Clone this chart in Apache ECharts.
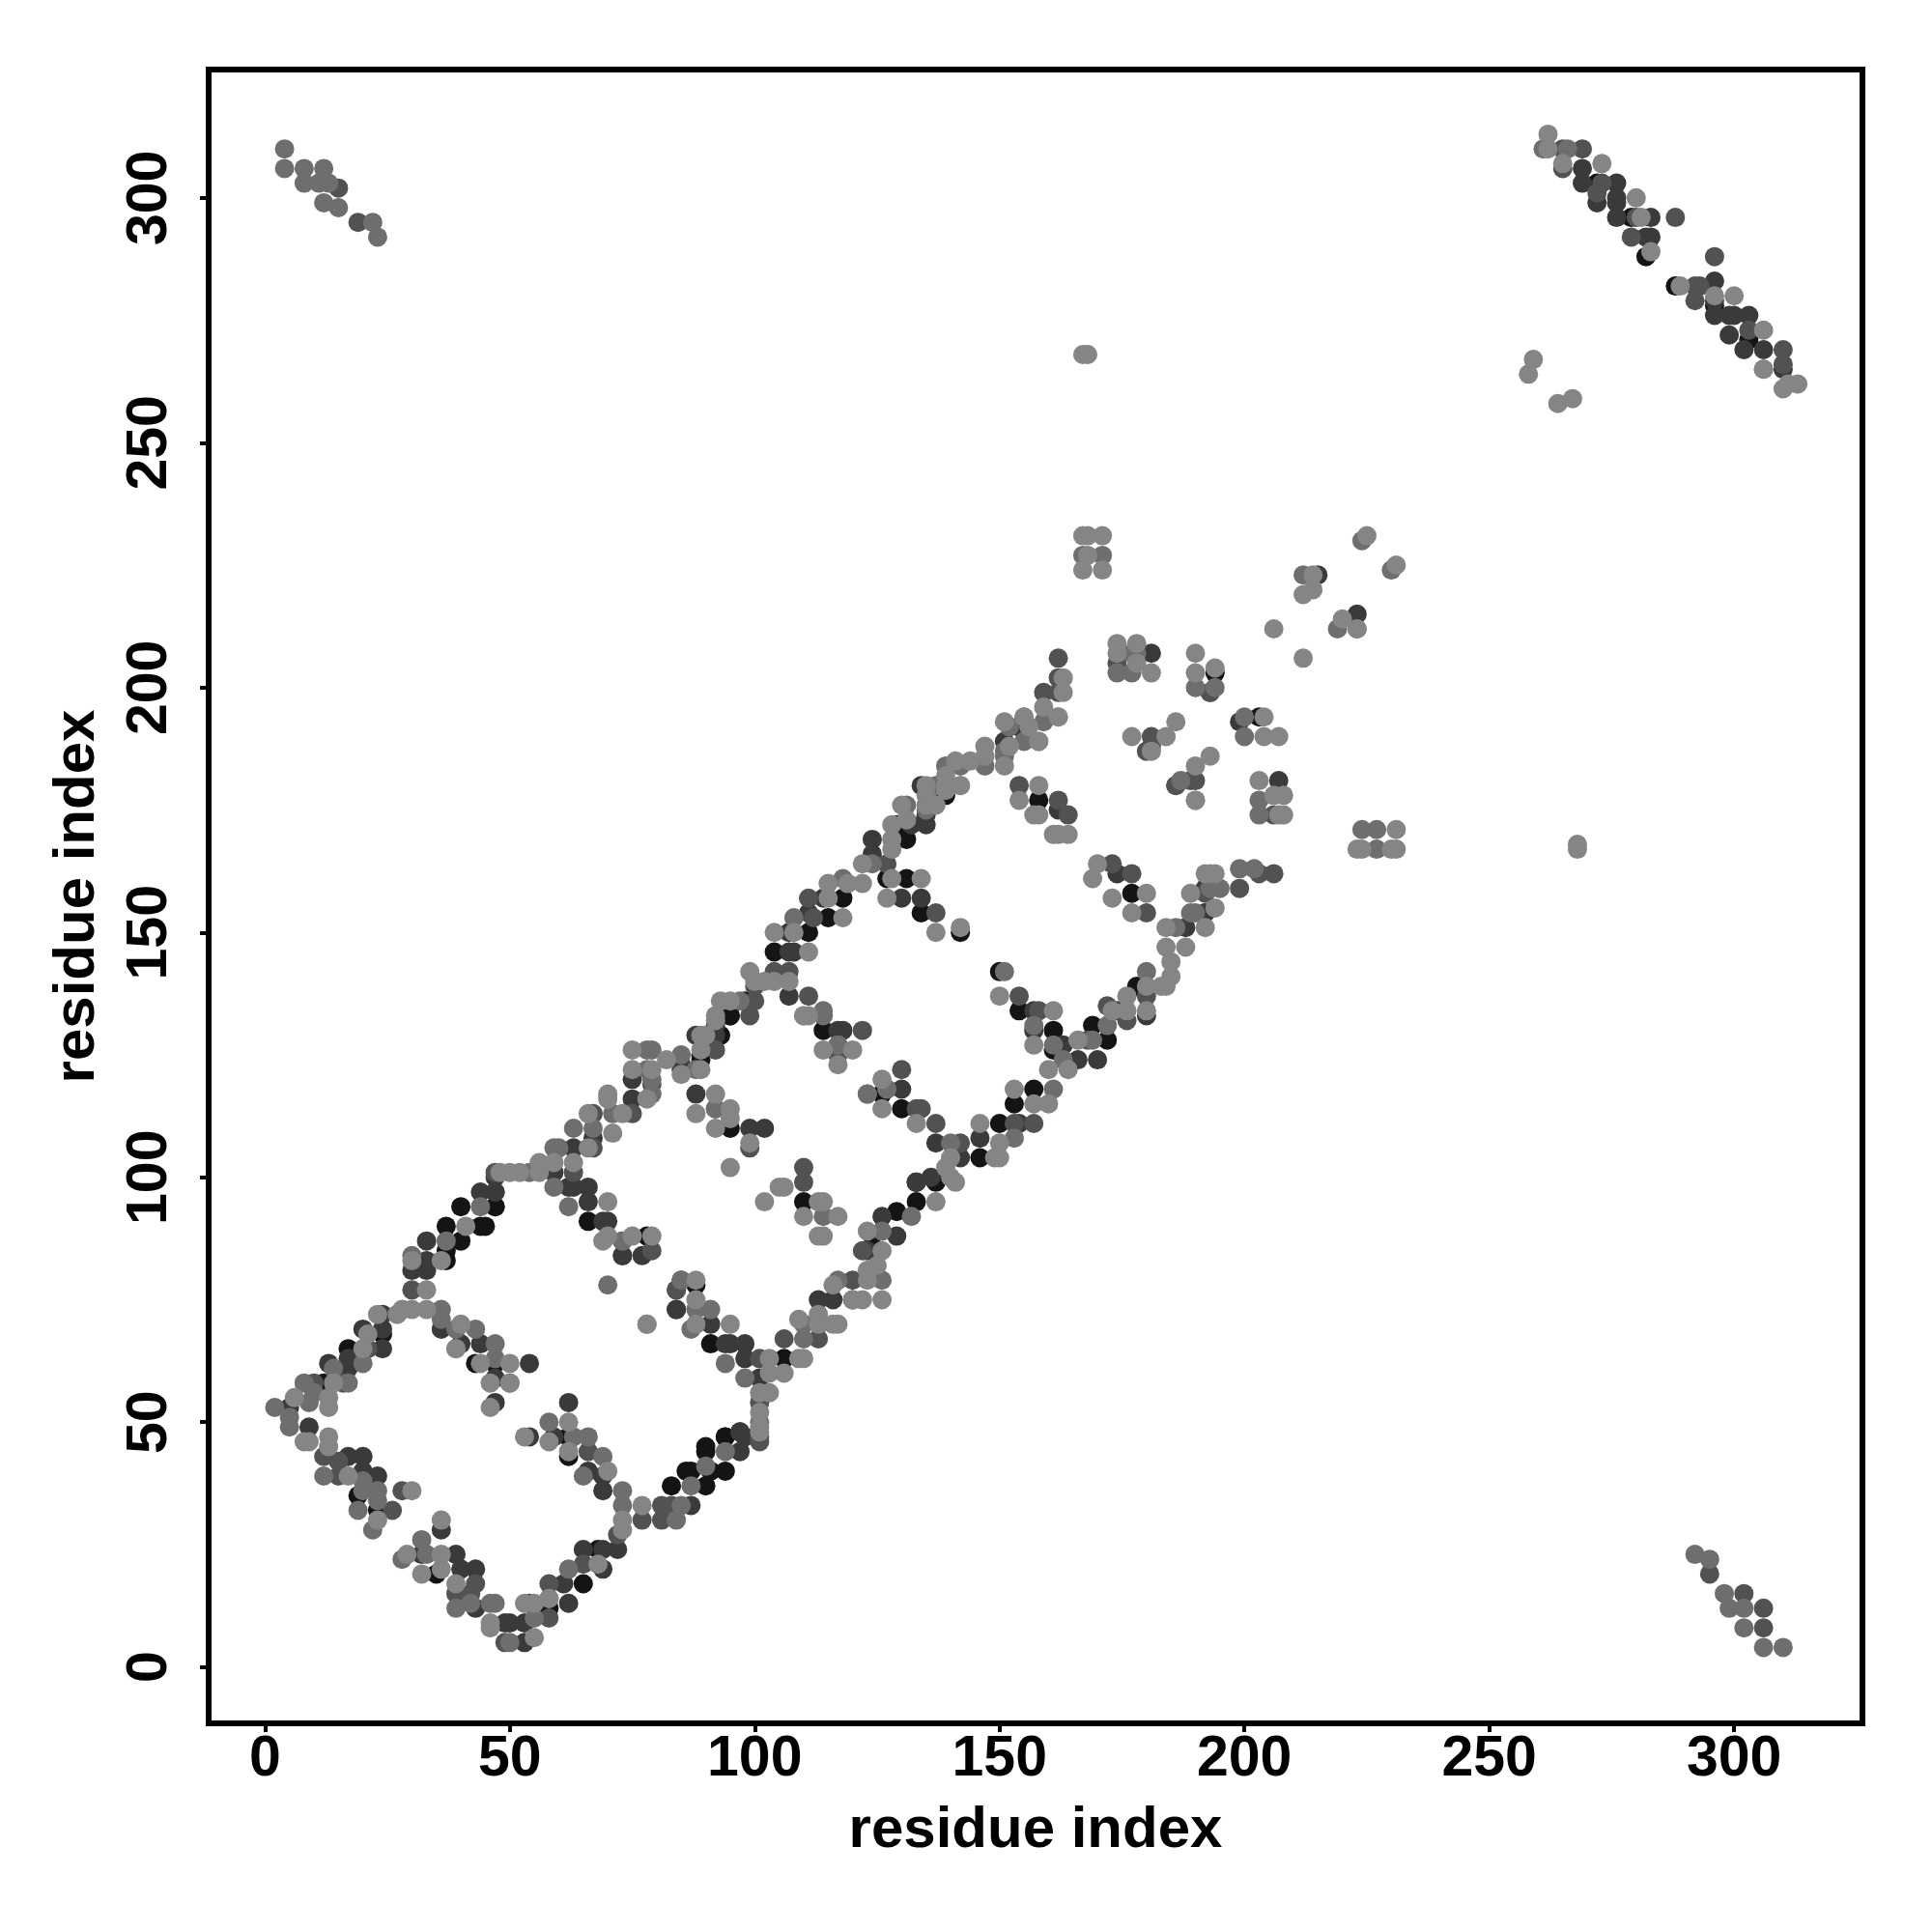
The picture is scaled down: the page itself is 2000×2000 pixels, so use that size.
<!DOCTYPE html>
<html><head><meta charset="utf-8">
<style>html,body{margin:0;padding:0;background:#fff}#c{width:2000px;height:2000px}</style>
<script src="https://cdn.jsdelivr.net/npm/echarts@6/dist/echarts.min.js"></script>
</head><body><div id="c"></div>
<script>
const tickValues = [0, 50, 100, 150, 200, 250, 300];
const axisTitle = 'residue index';

const contactsBlack = [
[12,58],[17,65],[24,68],[37,83],[43,62],[47,62],[23,32],[19,35],[35,19],[62,47],[62,43],[58,12],[65,17],[68,24],[83,37],[86,40],
[37,85],[40,87],[37,90],[40,94],[44,90],[47,94],[87,40],[90,37],[91,40],[94,40],[90,44],[94,47],[98,136],[95,133],[93,129],[89,124],
[47,94],[45,90],[89,125],[93,129],[95,133],[66,91],[78,88],[95,110],[94,47],[90,45],[114,130],[126,117],[130,114],[110,95],[133,95],[129,93],[124,88],[113,70],[106,63],[91,66],[88,78],
[139,178],[129,172],[131,169],[127,161],[131,161],[134,154],[142,150],[118,157],[115,153],[111,150],[104,146],[158,177],[177,158],[194,203],
[146,104],[150,111],[153,115],[157,118],[137,99],[150,142],[154,134],[161,130],[161,126],[169,131],[172,128],[178,139],[203,194],[279,296],[272,303],[282,288],[288,282],[296,278],[303,271]
];
const contactsDark = [
[5,53],[9,49],[13,62],[17,61],[17,63],[24,65],[24,69],[24,72],[20,69],[30,81],[33,81],[33,83],[33,87],[44,97],[47,97],[47,100],[36,69],[40,66],[44,66],[47,59],[47,54],[54,62],[17,43],[20,43],[20,40],[23,39],[43,12],[39,23],[40,20],[43,20],[32,23],[36,28],[49,9],[50,9],[53,5],[53,9],[54,13],[62,13],[61,17],[69,20],[65,24],[69,24],[72,24],[69,36],[69,39],[66,40],[59,47],[62,54],[54,47],[87,33],[97,44],[97,48],[98,47],[84,73],[73,84],[77,84],
[75,120],[75,116],[67,108],[63,106],[59,101],[63,98],[62,98],[66,98],[66,95],[47,97],[69,91],[70,91],[73,84],[88,117],[99,110],[102,110],[85,123],[85,122],[92,131],[92,129],[88,129],[127,118],[130,118],[133,99],[126,92],[123,85],[116,75],[113,75],[120,75],[98,63],[101,59],[98,66],[95,66],[94,66],[91,70],[84,73],[97,48],[133,99],[129,88],
[134,180],[135,174],[135,172],[132,172],[124,169],[124,166],[130,157],[134,157],[114,157],[111,154],[107,150],[108,146],[107,146],[107,137],[117,130],[118,130],[162,175],[174,162],[137,107],[142,104],[146,108],[136,100],[133,99],[154,111],[157,134],[157,130],[163,127],[166,124],[170,124],[174,134],[180,133],[188,151],[192,154],[215,223],[223,215],[181,207],[193,199],[199,193],[207,181],[192,159],[192,154],[154,192],[151,189],
[269,306],[269,303],[276,303],[272,299],[276,300],[276,299],[276,296],[283,296],[283,292],[282,292],[296,283],[296,279],[296,276],[299,276],[300,276],[303,276],[299,272],[302,269],[306,269],[310,265]
];
const contactsDarkMid = [
[10,58],[16,58],[21,65],[28,36],[26,32],[30,77],[15,42],[15,39],[12,43],[42,15],[39,15],[43,17],[49,5],[58,10],[58,17],[65,21],[72,27],[66,44],[110,102],[84,77],[85,79],
[77,30],[81,33],[81,30],[83,33],[101,46],
[47,101],[63,101],[67,106],[67,113],[75,113],[79,119],[73,87],[79,85],[92,114],[99,106],[110,99],[117,125],[122,130],[130,122],[133,114],[134,114],[122,85],[120,79],[113,67],[106,67],[101,63],[101,54],[101,47],[84,77],
[100,136],[99,133],[100,139],[92,126],
[127,164],[111,157],[112,153],[107,142],[104,142],[111,137],[137,154],[154,180],[162,177],[164,174],[186,180],[190,181],[137,111],[142,107],[153,111],[157,111],[154,137],[158,134],[168,128],[172,135],[180,137],[176,132],[192,158],
[173,164],[177,162],[180,154],[162,206],[162,202],[162,199],[159,199],[181,190],[181,188],[180,187],[186,180],[189,181],[174,205],[199,159],[203,162],[206,162],[206,174],[193,199],
[265,310],[269,310],[265,306],[273,303],[272,301],[280,296],[279,292],[288,296],[296,288],[292,282],[293,282],[292,279],[303,273],[310,269],[310,266],
[15,302],[19,295],[295,19],[302,15],[306,12],[306,8]
];
const contactsMid = [
[2,53],[5,49],[5,51],[9,54],[10,56],[8,58],[17,58],[14,61],[20,62],[36,73],[36,71],[39,69],[43,69],[47,63],[47,66],[50,58],[12,39],[19,32],[22,28],[32,26],[28,22],[33,23],[39,12],[42,13],[47,13],[46,13],[50,5],[55,10],[58,14],[62,20],[66,47],[69,43],[65,39],[63,47],[58,50],[73,33],[73,36],[70,78],[84,30],[85,33],[87,37],[90,41],[94,44],[23,34],[20,38],[20,36],[23,36],[37,87],[44,94],[30,84],
[78,126],[79,126],[78,122],[79,120],[79,117],[71,113],[63,110],[67,110],[59,106],[60,106],[54,101],[59,98],[62,94],[73,87],[85,125],[88,122],[92,114],[114,133],[117,127],[123,117],[132,92],[126,89],[126,79],[117,79],[110,70],[110,67],[98,59],[94,62],[87,69],[88,73],[91,73],[85,79],[114,92],[101,50],[97,136],
[131,176],[124,164],[108,153],[118,161],[114,134],[117,127],[127,118],[123,117],[140,107],[153,108],[161,118],[151,142],[157,131],[161,127],[163,124],[169,128],[172,131],[180,142],[186,151],[190,154],[189,154],[178,207],[177,207],
[167,227],[171,227],[224,230],[230,224],[212,223],[219,212],[223,212],[174,203],[177,203],[190,200],[194,200],[159,193],[155,189],[200,194],[200,190],[187,181],[203,177],[203,174],[224,171],[227,171],[227,167],[199,163],[202,163],[193,159],[195,159],[152,192],[151,187],[151,186],[147,184],[142,184],[139,184],[137,180],[135,175],
[266,310],[261,310],[306,265],[4,310],[4,306],[8,306],[8,303],[12,306],[11,303],[13,303],[12,299],[15,298],[22,295],[23,292],[292,23],[295,22],[298,15],[299,12],[302,12],[302,8],[306,4],[310,4]
];
const contactsLight = [
[6,55],[13,55],[13,53],[13,47],[13,45],[8,46],[9,46],[14,58],[21,68],[20,65],[23,72],[27,72],[28,73],[30,73],[33,77],[33,73],[30,83],[36,83],[41,90],[40,70],[39,65],[44,62],[50,62],[46,58],[50,58],[46,53],[17,39],[23,30],[30,36],[36,30],[29,23],[36,23],[32,19],[36,20],[39,17],[46,8],[46,9],[53,13],[55,13],[55,6],[58,14],[68,21],[73,28],[73,30],[70,40],[62,44],[62,50],[58,46],[53,47],[78,70],[77,33],[39,65],
[75,126],[82,124],[75,122],[79,122],[70,117],[70,116],[78,116],[73,113],[66,113],[71,109],[66,106],[56,103],[59,103],[63,103],[56,101],[52,101],[50,101],[48,101],[70,95],[69,87],[70,88],[75,88],[79,88],[85,121],[89,126],[90,129],[92,132],[88,113],[92,117],[95,114],[95,112],[92,110],[99,107],[95,102],[110,133],[114,126],[120,126],[117,123],[126,120],[126,114],[133,111],[106,98],[105,98],[102,95],[113,95],[114,95],[110,92],[117,92],[113,88],[114,88],[123,89],[126,85],[123,81],[125,82],[126,75],[123,79],[116,78],[120,75],[122,75],[113,72],[113,70],[117,70],[116,70],[109,71],[110,63],[109,63],[103,63],[103,60],[106,60],[101,56],[103,56],[101,52],[101,49],[101,48],[95,70],[88,70],[88,75],[88,79],[78,70],
[99,142],[100,140],[102,140],[95,136],[93,136],[92,133],[89,129],[89,122],
[139,180],[142,180],[135,180],[135,178],[130,176],[135,176],[137,176],[131,173],[128,172],[128,169],[128,167],[122,164],[128,161],[134,161],[127,157],[115,160],[122,160],[119,160],[115,157],[118,153],[108,150],[104,150],[111,146],[107,140],[104,140],[110,133],[111,133],[137,150],[142,151],
[158,180],[154,177],[157,174],[158,174],[161,170],[162,170],[164,170],[190,177],[146,111],[150,107],[150,104],[149,104],[140,104],[140,100],[139,102],[141,99],[137,95],[153,118],[157,115],[160,115],[160,122],[150,137],[161,134],[157,127],[166,128],[164,122],[173,134],[176,137],[176,134],[180,134],[180,139],[183,139],[184,139],[185,141],[185,144],[184,147],[188,147],[184,151],[192,151],[189,158],[193,162],[192,162],[194,162],
[170,164],[169,161],[173,157],[180,158],[177,154],[167,231],[168,231],[171,231],[168,227],[167,224],[171,224],[225,231],[231,225],[214,223],[212,219],[214,220],[220,214],[223,212],[206,212],[212,206],[174,209],[178,209],[174,207],[178,205],[181,203],[190,207],[190,203],[194,204],[163,202],[163,199],[159,196],[162,194],[155,194],[158,189],[156,192],[186,193],[177,190],[184,190],[181,187],[193,186],[190,184],[190,177],[204,194],[204,190],[207,190],[203,181],[208,178],[206,178],[208,174],[207,174],[231,171],[223,167],[224,167],[231,167],[230,167],[194,155],[151,193],[155,194],[162,194],[158,189],[152,188],[151,184],[147,188],[147,186],[144,185],[141,185],[139,182],[139,179],[142,180],[268,167],[268,168],[167,268],[168,268],
[262,313],[262,310],[265,307],[273,307],[280,300],[281,296],[283,289],[289,282],[296,280],[300,280],[306,273],[306,265],[310,261],[313,262],[311,262],[259,267],[258,264],[264,258],[267,259]
];

const grays = {contactsBlack:'#141414', contactsDark:'#3a3a3a', contactsDarkMid:'#525252', contactsMid:'#6e6e6e', contactsLight:'#858585'};
const layers = [
 ['contactsBlack', contactsBlack],
 ['contactsDark', contactsDark],
 ['contactsDarkMid', contactsDarkMid],
 ['contactsMid', contactsMid],
 ['contactsLight', contactsLight]
];
const fontFamily = '"Liberation Sans", Arial, sans-serif';
const chart = echarts.init(document.getElementById('c'), null, {renderer:'canvas', width:2000, height:2000});
function axis(extra){
  return Object.assign({
    type:'value', min:-11.5, max:326.2, name:axisTitle, nameLocation:'middle',
    nameTextStyle:{fontFamily, fontWeight:'bold', fontSize:60, color:'#000'},
    splitLine:{show:false},
    axisLine:{show:false, onZero:false},
    axisTick:{show:true, inside:false, length:9, lineStyle:{color:'#000', width:4}, customValues:tickValues},
  }, extra);
}
chart.setOption({
  animation:false,
  backgroundColor:'#fff',
  grid:{left:216, right:72, top:72, bottom:216, show:true, borderColor:'#000', borderWidth:6, backgroundColor:'transparent'},
  xAxis:axis({nameGap:81, axisLabel:{show:true, customValues:tickValues, fontFamily, fontWeight:'bold', fontSize:59, color:'#000', margin:8}}),
  yAxis:axis({nameGap:106, axisLabel:{show:true, customValues:tickValues, rotate:90, fontFamily, fontWeight:'bold', fontSize:59, color:'#000', margin:31}}),
  series:layers.map(([name,data],i)=>({
    type:'scatter', name, data, symbol:'circle', symbolSize:20, z:2+i, silent:true,
    itemStyle:{color:grays[name], opacity:1}, clip:false, large:false
  }))
});
</script></body></html>
